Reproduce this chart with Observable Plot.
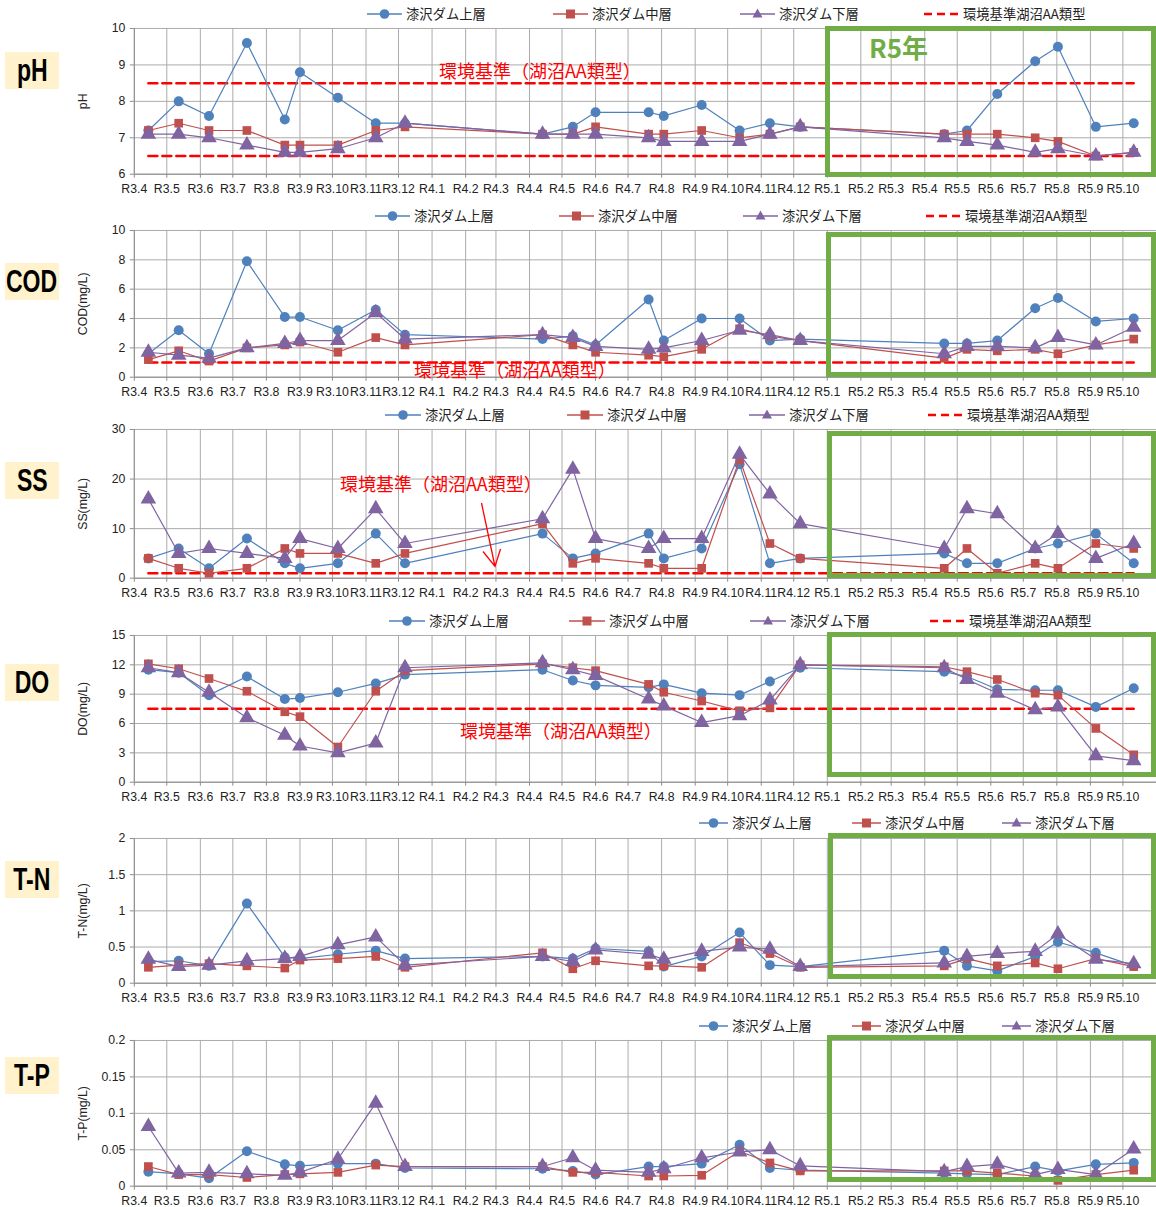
<!DOCTYPE html>
<html><head><meta charset="utf-8">
<script src="https://cdn.jsdelivr.net/npm/d3@7"></script>
<script src="https://cdn.jsdelivr.net/npm/@observablehq/plot@0.6"></script>
<style>
html,body{margin:0;padding:0;background:#fff;overflow:hidden}
#root{position:relative;width:1156px;height:1207px;overflow:hidden;background:#fff;font-family:"Noto Sans CJK JP",sans-serif}
.big{position:absolute;left:5px;width:54px;height:37px;background:#FFF2CC;display:flex;align-items:center;justify-content:center;z-index:2}
.big span{font:bold 32px "Liberation Sans",Arial,sans-serif;transform:scaleX(0.72);display:inline-block;color:#000;white-space:nowrap}
.leg{position:absolute;height:16px;display:flex;align-items:center;font-size:13.3px;color:#222;white-space:nowrap;z-index:3;line-height:16px}
.box{position:absolute;border:5px solid #70AD47;box-sizing:border-box;z-index:2}
.ann{position:absolute;color:#FF0000;font-size:18px;line-height:20px;white-space:nowrap;z-index:2}
.r5{position:absolute;color:#70AD47;font:bold 26px "Noto Sans CJK JP",sans-serif;line-height:30px;z-index:2}
</style></head>
<body><div id="root"></div>
<script>
// ---------- data ----------
const xTickLabels = ["R3.4","R3.5","R3.6","R3.7","R3.8","R3.9","R3.10","R3.11","R3.12","R4.1","R4.2","R4.3","R4.4","R4.5","R4.6","R4.7","R4.8","R4.9","R4.10","R4.11","R4.12","R5.1","R5.2","R5.3","R5.4","R5.5","R5.6","R5.7","R5.8","R5.9","R5.10"];
const xEndLabel = "R5.11";
const sampleDates = ["2021-04-14","2021-05-12","2021-06-09","2021-07-14","2021-08-18","2021-09-01","2021-10-06","2021-11-10","2021-12-07","2022-04-13","2022-05-11","2022-06-01","2022-07-20","2022-08-03","2022-09-07","2022-10-12","2022-11-09","2022-12-07","2023-04-19","2023-05-10","2023-06-07","2023-07-12","2023-08-02","2023-09-06","2023-10-11"];
const seriesNames = ["漆沢ダム上層","漆沢ダム中層","漆沢ダム下層"];
const standardName = "環境基準湖沼AA類型";
const standardNote = "環境基準（湖沼AA類型）";
const highlightLabel = "R5年";
const panelTitles = ["pH","COD","SS","DO","T-N","T-P"];
const yTitles = ["pH","COD(mg/L)","SS(mg/L)","DO(mg/L)","T-N(mg/L)","T-P(mg/L)"];

const pHUpper  = [7.2,8.0,7.6,9.6,7.5,8.8,8.1,7.4,7.4,7.1,7.3,7.7,7.7,7.6,7.9,7.2,7.4,7.3,7.1,7.2,8.2,9.1,9.5,7.3,7.4];
const pHMiddle = [7.2,7.4,7.2,7.2,6.8,6.8,6.8,7.2,7.3,7.1,7.1,7.3,7.1,7.1,7.2,7.0,7.1,7.3,7.1,7.1,7.1,7.0,6.9,6.5,6.6];
const pHLower  = [7.1,7.1,7.0,6.8,6.6,6.6,6.7,7.0,7.4,7.1,7.1,7.1,7.0,6.9,6.9,6.9,7.1,7.3,7.0,6.9,6.8,6.6,6.7,6.5,6.6];
const pHStandard = [8.5,6.5];
const pHTicks = [6,7,8,9,10];

const codUpper  = [1.6,3.2,1.6,7.9,4.1,4.1,3.2,4.6,2.9,2.6,2.8,2.2,5.3,2.5,4.0,4.0,2.5,2.6,2.3,2.3,2.5,4.7,5.4,3.8,4.0];
const codMiddle = [1.2,1.8,1.1,2.0,2.2,2.4,1.7,2.7,2.2,2.9,2.2,1.7,1.5,1.4,1.9,3.3,2.8,2.5,1.3,1.9,1.8,1.9,1.6,2.2,2.6];
const codLower  = [1.7,1.5,1.3,2.0,2.3,2.5,2.5,4.4,2.6,2.9,2.7,2.1,1.9,2.0,2.5,3.2,2.9,2.5,1.6,2.1,2.1,2.0,2.7,2.2,3.4];
const codStandard = [1];
const codTicks = [0,2,4,6,8,10];

const ssUpper  = [4,6,2,8,3,2,3,9,3,9,4,5,9,4,6,23,3,4,5,3,3,6,7,9,3];
const ssMiddle = [4,2,1,2,6,5,5,3,5,11,3,4,3,2,2,24,7,4,2,6,1,3,2,7,6];
const ssLower  = [16,5,6,5,4,8,6,14,7,12,22,8,6,8,8,25,17,11,6,14,13,6,9,4,7];
const ssStandard = [1];
const ssTicks = [0,10,20,30];

const doUpper  = [11.5,11.2,8.9,10.8,8.5,8.6,9.2,10.1,11.0,11.5,10.4,9.9,9.7,10.0,9.1,8.9,10.3,11.7,11.3,10.8,9.5,9.4,9.4,7.7,9.6];
const doMiddle = [12.1,11.6,10.6,9.3,7.2,6.7,3.6,9.3,11.4,12.1,11.7,11.4,10.0,9.2,8.3,7.3,7.6,12.0,11.8,11.3,10.5,9.1,8.9,5.5,2.8];
const doLower  = [11.7,11.2,9.2,6.6,4.8,3.7,3.0,4.0,11.7,12.2,11.5,10.9,8.5,7.8,6.1,6.8,8.4,12.0,11.7,10.5,9.1,7.4,7.7,2.7,2.2];
const doStandard = [7.5];
const doTicks = [0,3,6,9,12,15];

const tnUpper  = [0.30,0.31,0.24,1.10,0.36,0.34,0.40,0.45,0.34,0.37,0.34,0.48,0.44,0.23,0.37,0.70,0.25,0.23,0.45,0.24,0.17,0.37,0.57,0.42,0.24];
const tnMiddle = [0.22,0.25,0.27,0.24,0.21,0.32,0.34,0.37,0.22,0.42,0.20,0.31,0.24,0.24,0.22,0.56,0.41,0.22,0.24,0.34,0.24,0.28,0.20,0.34,0.23];
const tnLower  = [0.33,0.23,0.25,0.31,0.34,0.37,0.53,0.64,0.25,0.37,0.30,0.46,0.40,0.33,0.44,0.50,0.47,0.23,0.28,0.37,0.41,0.44,0.68,0.33,0.27];
const tnTicks = [0,0.5,1,1.5,2];

const tpUpper  = [0.020,0.017,0.011,0.048,0.030,0.028,0.031,0.031,0.025,0.024,0.021,0.016,0.027,0.027,0.031,0.057,0.025,0.022,0.018,0.017,0.016,0.027,0.021,0.030,0.032];
const tpMiddle = [0.027,0.016,0.016,0.012,0.016,0.017,0.019,0.029,0.027,0.027,0.019,0.019,0.014,0.014,0.015,0.048,0.032,0.021,0.021,0.021,0.018,0.014,0.008,0.016,0.022];
const tpLower  = [0.082,0.018,0.019,0.017,0.015,0.019,0.037,0.114,0.027,0.027,0.039,0.022,0.019,0.024,0.039,0.047,0.050,0.028,0.020,0.027,0.030,0.016,0.023,0.016,0.051];
const tpTicks = [0,0.05,0.1,0.15,0.2];

// ---------- styling / layout ----------
const colors = ["#4F81BD","#C0504D","#8064A2"];
const symbols = ["circle","square","triangle"];
const radii = [5,4.9,5.8];
const stdColor = "#FF0000";
const gridColor = "#ababab";

const panels = [
  {values:[pHUpper,pHMiddle,pHLower], standard:pHStandard, ticks:pHTicks,
   L:{plotTop:28, plotH:146, legY:14, legX:[367,553,740,924], legLine:35, box:[825,26,331,151], big:52, note:[439,70], r5:true}},
  {values:[codUpper,codMiddle,codLower], standard:codStandard, ticks:codTicks,
   L:{plotTop:230, plotH:147, legY:216, legX:[375,559,743,926], legLine:35, box:[826,232,330,145], big:263, note:[414,369]}},
  {values:[ssUpper,ssMiddle,ssLower], standard:ssStandard, ticks:ssTicks,
   L:{plotTop:429, plotH:149, legY:415, legX:[385,567,749,928], legLine:36, box:[827,431,329,147], big:462, note:[340,483], arrow:true}},
  {values:[doUpper,doMiddle,doLower], standard:doStandard, ticks:doTicks,
   L:{plotTop:635, plotH:147, legY:621, legX:[389,569,750,930], legLine:36, box:[827,632,329,145], big:664, note:[460,730]}},
  {values:[tnUpper,tnMiddle,tnLower], standard:[], ticks:tnTicks,
   L:{plotTop:838, plotH:145, legY:823, legX:[699,852,1002], legLine:29, box:[828,833,328,146], big:861}},
  {values:[tpUpper,tpMiddle,tpLower], standard:[], ticks:tpTicks,
   L:{plotTop:1040, plotH:146, legY:1026, legX:[699,852,1002], legLine:29, box:[827,1035,329,147], big:1057}}
];

// ---------- helpers ----------
const reiwaToDate = s => { const m = /R(\d+)\.(\d+)/.exec(s); return new Date(Date.UTC(2018 + +m[1], +m[2]-1, 1)); };
const tickDates = xTickLabels.map(reiwaToDate);
const labelByTime = new Map(tickDates.map((d,i)=>[+d, xTickLabels[i]]));
const xStart = tickDates[0];
const xEnd = reiwaToDate(xEndLabel);
const gridDates = [...tickDates, xEnd];
const dates = sampleDates.map(s => new Date(s + "T00:00:00Z"));

const root = document.getElementById("root");
const NS = "http://www.w3.org/2000/svg";

function markerSvg(k, len) {
  const svg = document.createElementNS(NS, "svg");
  svg.setAttribute("width", len); svg.setAttribute("height", 14);
  const c = len/2;
  const line = document.createElementNS(NS, "line");
  line.setAttribute("x1",0); line.setAttribute("x2",len); line.setAttribute("y1",7); line.setAttribute("y2",7);
  if (k < 0) {
    line.setAttribute("stroke", stdColor); line.setAttribute("stroke-width", 2.5); line.setAttribute("stroke-dasharray","8,5");
    svg.appendChild(line); return svg;
  }
  line.setAttribute("stroke", colors[k]); line.setAttribute("stroke-width", 1.5);
  svg.appendChild(line);
  let m;
  if (k === 0) { m = document.createElementNS(NS,"circle"); m.setAttribute("cx",c); m.setAttribute("cy",7); m.setAttribute("r",4.8); }
  else if (k === 1) { m = document.createElementNS(NS,"rect"); m.setAttribute("x",c-4.5); m.setAttribute("y",2.5); m.setAttribute("width",9); m.setAttribute("height",9); }
  else { m = document.createElementNS(NS,"polygon"); m.setAttribute("points", `${c},1.5 ${c+5},10.5 ${c-5},10.5`); }
  m.setAttribute("fill", colors[k]);
  svg.appendChild(m);
  return svg;
}

function legendItem(k, x, y, len, text) {
  const d = document.createElement("div");
  d.className = "leg";
  d.style.left = x + "px"; d.style.top = (y - 8) + "px";
  d.appendChild(markerSvg(k, len));
  const s = document.createElement("span");
  s.textContent = text; s.style.marginLeft = (k < 0 ? 2 : 4) + "px";
  d.appendChild(s);
  root.appendChild(d);
}

panels.forEach((p, pi) => {
  const L = p.L;
  const mt = 10, mb = 26;
  const yDomain = [p.ticks[0], p.ticks[p.ticks.length-1]];
  const marks = [
    Plot.gridX(gridDates, {stroke: gridColor, strokeOpacity: 1, strokeWidth: 1}),
    Plot.gridY(p.ticks, {stroke: gridColor, strokeOpacity: 1, strokeWidth: 1}),
    Plot.ruleX([xStart], {stroke: "#8c8c8c"}),
    Plot.ruleY([yDomain[0]], {stroke: "#8c8c8c"}),
    Plot.axisX(tickDates, {tickFormat: d => labelByTime.get(+d), tickSize: 4, tickPadding: 6, stroke: "#8c8c8c", fill: "#222", label: null, fontSize: 12.3}),
    Plot.axisY(p.ticks, {tickFormat: d => String(d), tickSize: 4, tickPadding: 5, stroke: "#8c8c8c", fill: "#222", fontSize: 12.3,
      label: yTitles[pi], labelAnchor: "center", labelOffset: 56, labelArrow: "none"})
  ];
  if (p.standard.length) {
    const stdData = p.standard.flatMap(v => [{date: dates[0], v, g: v}, {date: dates[dates.length-1], v, g: v}]);
    marks.push(Plot.line(stdData, {x: "date", y: "v", z: "g", stroke: stdColor, strokeWidth: 2.5, strokeDasharray: "9,5"}));
  }
  p.values.forEach((vals, k) => {
    const data = dates.map((d,i) => ({date: d, v: vals[i]}));
    marks.push(Plot.line(data, {x: "date", y: "v", stroke: colors[k], strokeWidth: 1.2}));
    marks.push(Plot.dot(data, {x: "date", y: "v", fill: colors[k], symbol: symbols[k], r: radii[k]}));
  });
  const svg = Plot.plot({
    width: 1158, height: L.plotH + mt + mb,
    marginTop: mt, marginBottom: mb, marginLeft: 134, marginRight: 0,
    style: {background: "transparent", fontFamily: "'Liberation Sans', Arial, sans-serif", fontSize: "12.3px", color: "#222", overflow: "visible"},
    x: {type: "utc", domain: [xStart, xEnd]},
    y: {domain: yDomain},
    marks
  });
  svg.style.position = "absolute";
  svg.style.left = "0px";
  svg.style.top = (L.plotTop - mt) + "px";
  svg.style.zIndex = 1;
  root.appendChild(svg);

  // panel title
  const big = document.createElement("div");
  big.className = "big"; big.style.top = L.big + "px";
  const bs = document.createElement("span"); bs.textContent = panelTitles[pi];
  big.appendChild(bs); root.appendChild(big);

  // legend
  seriesNames.forEach((n,k) => legendItem(k, L.legX[k], L.legY, L.legLine, n));
  if (p.standard.length) legendItem(-1, L.legX[3], L.legY, 37, standardName);

  // highlight box
  const box = document.createElement("div");
  box.className = "box";
  box.style.left = L.box[0] + "px"; box.style.top = L.box[1] + "px";
  box.style.width = L.box[2] + "px"; box.style.height = L.box[3] + "px";
  root.appendChild(box);

  if (L.note) {
    const a = document.createElement("div");
    a.className = "ann"; a.textContent = standardNote;
    a.style.left = L.note[0] + "px"; a.style.top = (L.note[1] - 10) + "px";
    root.appendChild(a);
  }
  if (L.r5) {
    const r = document.createElement("div");
    r.className = "r5"; r.textContent = highlightLabel;
    r.style.left = "869px"; r.style.top = "32px";
    root.appendChild(r);
  }
  if (L.arrow) {
    const s = document.createElementNS(NS, "svg");
    s.setAttribute("width", 1156); s.setAttribute("height", 1207);
    s.style.position = "absolute"; s.style.left = "0"; s.style.top = "0"; s.style.zIndex = 2; s.style.pointerEvents = "none";
    const pl = document.createElementNS(NS, "path");
    pl.setAttribute("d", "M481.5,503 L495,566.5 M483,551.5 L495,566.5 L500.5,549");
    pl.setAttribute("stroke", stdColor); pl.setAttribute("stroke-width", 1.3); pl.setAttribute("fill", "none");
    s.appendChild(pl);
    root.appendChild(s);
  }
});
</script></body></html>
